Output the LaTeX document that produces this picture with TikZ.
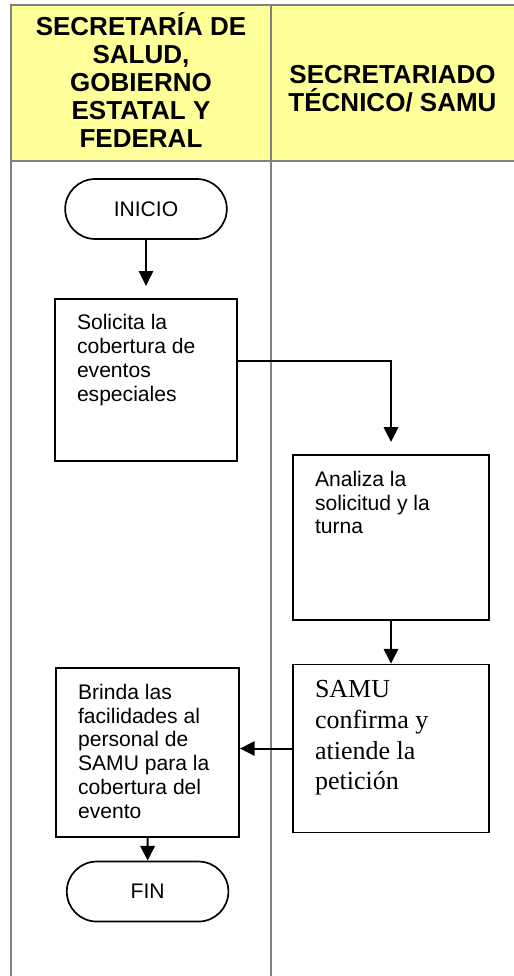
\documentclass[tikz,border=0pt]{standalone}
\usepackage{fontspec}
\setmainfont{Liberation Sans}
\newfontfamily\serifa{Liberation Serif}
\usetikzlibrary{arrows.meta}
\usetikzlibrary{shapes.misc,positioning}
\definecolor{encabezado}{RGB}{255,255,153}
\definecolor{linea}{RGB}{128,128,128}
\newcommand{\etapa}[3]{\parbox[c][\dimexpr#2-0.8cm\relax][t]{\dimexpr#1-1.1cm\relax}{\raggedright #3}}
\tikzset{>=stealth,
  terminal/.style={draw, rounded rectangle, line width=1.2pt,
    minimum width=4.275cm, minimum height=1.5cm, font=\fontsize{15}{18}\selectfont},
  proceso/.style={draw, rectangle, line width=1.2pt, inner xsep=0.55cm,
    inner ysep=0.4cm, anchor=north, font=\fontsize{15}{17}\selectfont},
  flecha/.style={-{Triangle[width=0.36cm,length=0.37cm]}, line width=1.4pt},
  carril/.style={draw=linea, line width=1.4pt},
  titulo/.style={align=center, font=\fontsize{18.5}{20}\selectfont\bfseries}}

\begin{document}
\begin{tikzpicture}
    \useasboundingbox (0,0) rectangle (12.85,-24.4);
    % encabezado y carriles
    \fill[encabezado] (0.275,-0.125) rectangle (12.85,-4.025);
    \draw[carril] (12.85,-0.125) -- (0.275,-0.125) -- (0.275,-24.4);
    \draw[carril] (0.275,-4.025) -- (12.85,-4.025);
    \draw[carril] (6.775,-0.125) -- (6.775,-24.4);

    \node[titulo] (salud) at (3.525,-2.0) {SECRETARÍA DE\\SALUD,\\GOBIERNO\\ESTATAL Y\\FEDERAL};
    \node[titulo] (samu) at (9.8125,-2.225) {SECRETARIADO\\TÉCNICO/ SAMU};

    \node[terminal] (inicio) at (3.65,-5.225) {INICIO};
    \node[proceso] (solicita) [below=1.45cm of inicio]
      {\etapa{4.55cm}{4.05cm}{Solicita la\\cobertura de\\eventos\\especiales}};
    \node[proceso] (analiza) at (9.775,-11.35)
      {\etapa{4.9cm}{4.125cm}{Analiza la\\solicitud y la\\turna}};
    \node[proceso] (confirma) [below=1.075cm of analiza]
      {\etapa{4.9cm}{4.2cm}{\serifa\fontsize{18.5}{21.8}\selectfont SAMU\\confirma y\\atiende la\\petición}};
    \node[proceso] (brinda) at (3.69,-16.675)
      {\etapa{4.575cm}{4.225cm}{Brinda las\\facilidades al\\personal de\\SAMU para la\\cobertura del\\evento}};
    \node[terminal] (fin) [below=0.575cm of brinda] {FIN};

    \draw[flecha, shorten >=0.3cm] (inicio) -- (solicita);
    \draw[flecha, shorten >=0.3cm] ([yshift=0.475cm]solicita.east) -| (analiza.north);
    \draw[flecha] (analiza) -- (confirma);
    \draw[flecha] (confirma.west) -- (confirma.west -| brinda.east);
    \draw[flecha] (brinda) -- (fin);
\end{tikzpicture}
\end{document}
